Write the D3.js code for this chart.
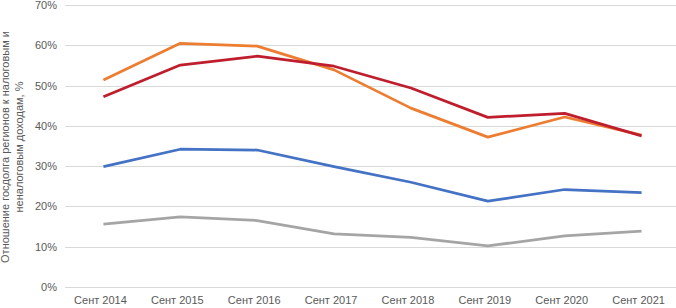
<!DOCTYPE html>
<html>
<head>
<meta charset="utf-8">
<script src="https://cdn.jsdelivr.net/npm/d3@7"></script>
<style>
body { margin: 0; background: #fff; }
text { font-family: "Liberation Sans", Arial, sans-serif; fill: #595959; }
</style>
</head>
<body>
<div id="chart"></div>
<script>
var years = ["Сент 2014", "Сент 2015", "Сент 2016", "Сент 2017", "Сент 2018", "Сент 2019", "Сент 2020", "Сент 2021"]
var blue = [29.9, 34.2, 34.0, 29.9, 26.0, 21.3, 24.2, 23.4]
var orange = [51.4, 60.5, 59.8, 53.9, 44.4, 37.2, 42.2, 37.7]
var gray = [15.6, 17.4, 16.5, 13.2, 12.3, 10.2, 12.7, 13.9]
var red = [47.2, 55.1, 57.3, 54.8, 49.4, 42.1, 43.1, 37.5]
var yTicks = [0, 10, 20, 30, 40, 50, 60, 70]

var series = [
    {name: "gray", values: gray, color: "#A5A5A5"},
    {name: "blue", values: blue, color: "#4472C4"},
    {name: "orange", values: orange, color: "#ED7D31"},
    {name: "red", values: red, color: "#BE1E2D"}
]

var width = 676, height = 308
var margin = {top: 5, right: -4, bottom: 21, left: 65}

var svg = d3.select("#chart").append("svg")
    .attr("width", width)
    .attr("height", height)

var x = d3.scaleBand()
    .domain(years)
    .range([margin.left, width - margin.right])

var y = d3.scaleLinear()
    .domain([0, 70])
    .range([height - margin.bottom, margin.top])

// gridlines
svg.append("g")
    .selectAll("line")
    .data(yTicks)
    .enter().append("line")
    .attr("x1", margin.left)
    .attr("x2", width)
    .attr("y1", function (d) { return Math.round(y(d)) + 0.5 })
    .attr("y2", function (d) { return Math.round(y(d)) + 0.5 })
    .attr("stroke", "#D9D9D9")
    .attr("stroke-width", 1)

// y labels
svg.append("g")
    .selectAll("text")
    .data(yTicks)
    .enter().append("text")
    .attr("x", 57)
    .attr("y", function (d) { return y(d) + 4 })
    .attr("text-anchor", "end")
    .style("font-size", "11px")
    .text(function (d) { return d + "%" })

// x labels
svg.append("g")
    .selectAll("text")
    .data(years)
    .enter().append("text")
    .attr("x", function (d) { return x(d) + x.bandwidth() / 2 - 3 })
    .attr("y", 304)
    .attr("text-anchor", "middle")
    .style("font-size", "11px")
    .text(function (d) { return d })

// y title
var title = svg.append("text")
    .attr("transform", "translate(0,147) rotate(-90)")
    .attr("text-anchor", "middle")
    .style("font-size", "11px")
title.append("tspan").attr("x", 0).attr("y", 9).text("Отношение госдолга регионов к налоговым и")
title.append("tspan").attr("x", 0).attr("y", 23).text("неналоговым доходам, %")

var line = d3.line()
    .x(function (d, i) { return x(years[i]) + x.bandwidth() / 2 })
    .y(function (d) { return y(d) })

svg.append("g")
    .selectAll("path")
    .data(series)
    .enter().append("path")
    .attr("d", function (d) { return line(d.values) })
    .attr("fill", "none")
    .attr("stroke", function (d) { return d.color })
    .attr("stroke-width", 2.75)
    .attr("stroke-linejoin", "round")
</script>
</body>
</html>
